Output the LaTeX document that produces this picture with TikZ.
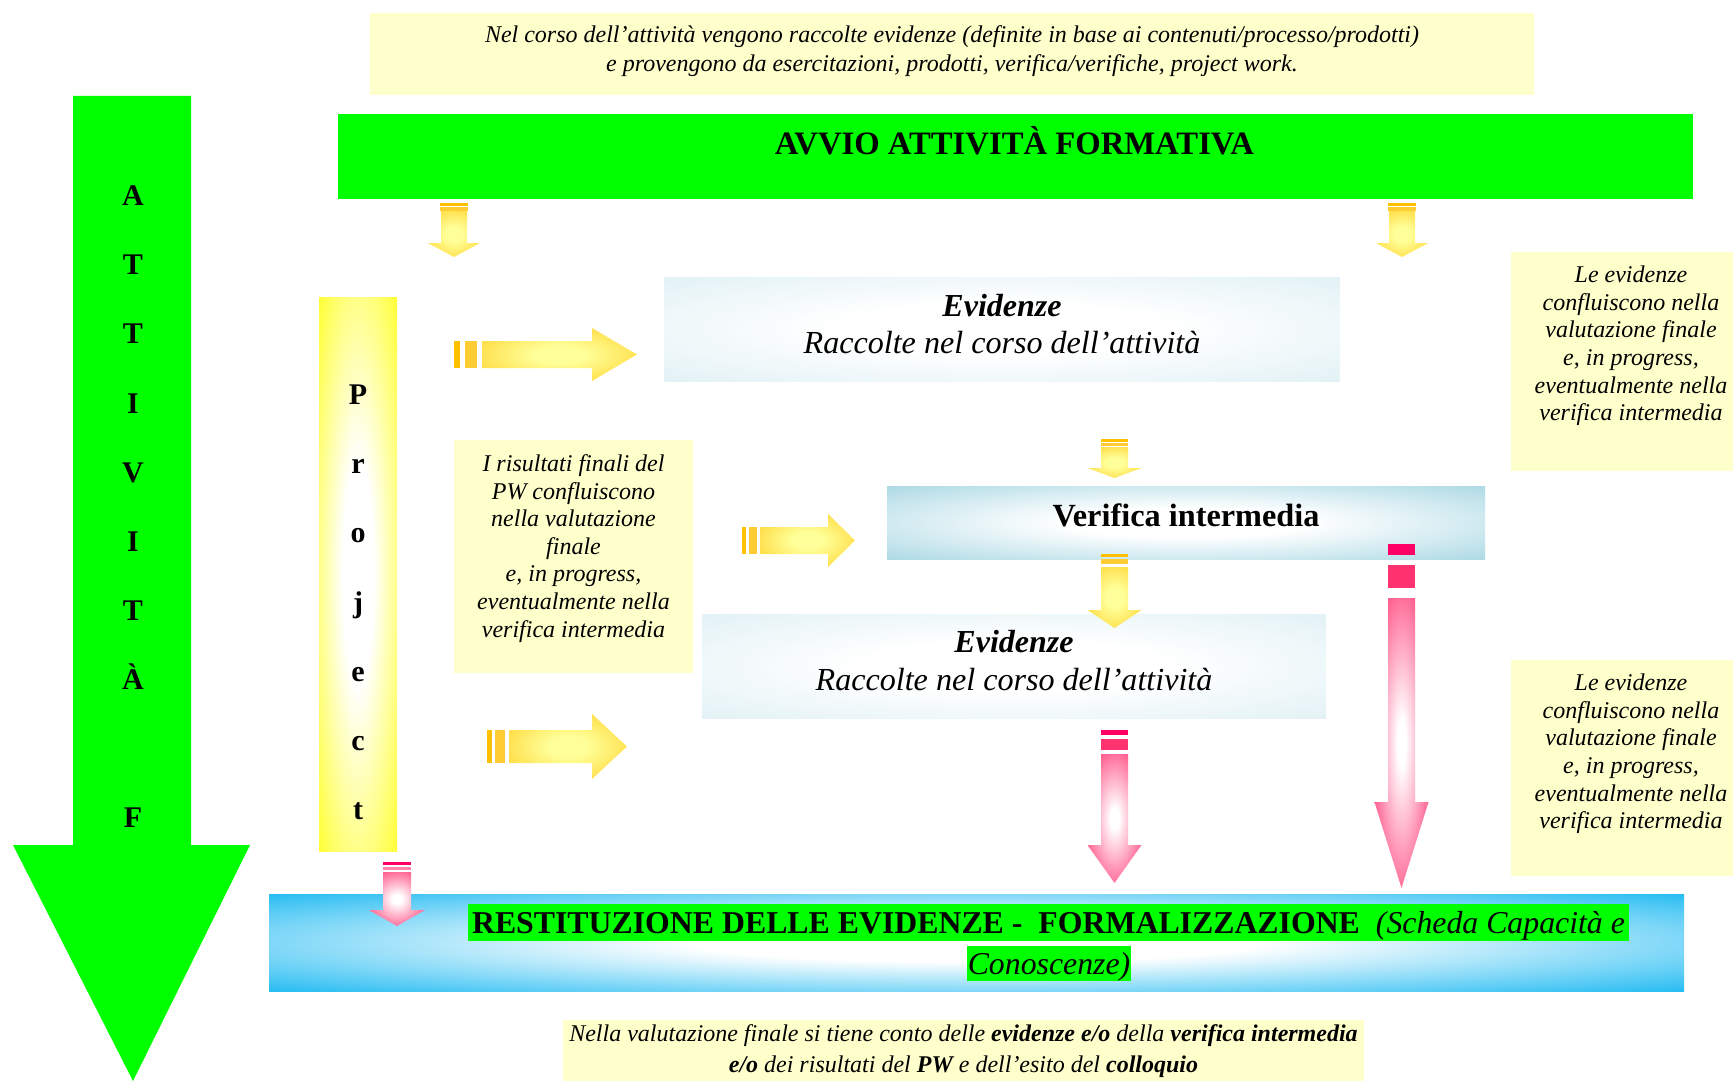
\documentclass[tikz,border=0pt]{standalone}
\usepackage{fontspec}
\setmainfont{Liberation Serif}
\definecolor{noteyellow}{HTML}{FFFFCC}
\definecolor{brightgreen}{HTML}{00FF00}
\definecolor{evblue}{HTML}{DAEEF3}
\definecolor{verblue}{HTML}{92CDDC}
\definecolor{barblue}{HTML}{00B0F0}
\definecolor{gold}{HTML}{FFC000}
\definecolor{goldlight}{HTML}{FFCC33}
\definecolor{paleyellow}{HTML}{FFFF99}
\definecolor{projyellow}{HTML}{FFFF00}
\definecolor{pinkarrow}{HTML}{FF3370}
\definecolor{hotpink}{HTML}{FF0066}
\pgfdeclareradialshading{evshade}{\pgfpointorigin}{color(0bp)=(white); color(12bp)=(white); color(42bp)=(evblue); color(72bp)=(evblue)}
\pgfdeclareradialshading{vershade}{\pgfpointorigin}{color(0bp)=(white); color(10bp)=(white); color(44bp)=(verblue); color(72bp)=(verblue)}
\pgfdeclareradialshading{barshade}{\pgfpointorigin}{color(0bp)=(white); color(10bp)=(white); color(40bp)=(barblue); color(72bp)=(barblue)}
\pgfdeclareradialshading{projshade}{\pgfpointorigin}{color(0bp)=(white); color(10bp)=(white); color(42bp)=(projyellow); color(72bp)=(projyellow)}
\pgfdeclareradialshading{yelshade}{\pgfpointorigin}{color(0bp)=(paleyellow); color(8bp)=(paleyellow); color(46bp)=(gold); color(72bp)=(gold)}
\pgfdeclareradialshading{pinkshade}{\pgfpointorigin}{color(0bp)=(white); color(4bp)=(white); color(34bp)=(pinkarrow); color(72bp)=(pinkarrow)}
\newcommand{\fsz}[2]{\fontsize{#1}{#2}\selectfont}
% down block arrow: #1 shading, #2 x, #3 shaft top, #4 head top, #5 tip, #6 shaft half width
\newcommand{\dnarrow}[6]{%
  \shade[shading=#1] ({#2-#6},#3) -- ({#2+#6},#3) -- ({#2+#6},#4) -- ({#2+2*#6},#4) -- (#2,#5) -- ({#2-2*#6},#4) -- ({#2-#6},#4) -- cycle;}
% right block arrow: #1 shading, #2 y, #3 shaft left, #4 head left, #5 tip, #6 shaft half, #7 head half
\newcommand{\rtarrow}[7]{%
  \shade[shading=#1] (#3,{#2-#6}) -- (#4,{#2-#6}) -- (#4,{#2-#7}) -- (#5,#2) -- (#4,{#2+#7}) -- (#4,{#2+#6}) -- (#3,{#2+#6}) -- cycle;}
\begin{document}
\begin{tikzpicture}[x=1pt,y=-1pt,
  box/.style={inner sep=0pt, outer sep=0pt, anchor=north west, draw=none},
  notebox/.style={box, fill=noteyellow},
  notetext/.style={align=center, inner sep=0pt, font=\itshape\fsz{24}{27.6}},
  letter/.style={anchor=base, inner sep=0pt, font=\bfseries\fsz{30}{30}},
  ttl/.style={anchor=base, inner sep=0pt, font=\bfseries\fsz{32.3}{36}},
  sub/.style={anchor=base, inner sep=0pt, font=\itshape\fsz{32.1}{36}}]
\useasboundingbox (0,0) rectangle (1733,1081);

% top note
\node[notebox, minimum width=1164pt, minimum height=82pt] (topnote) at (370,13) {};
\node[notetext, font=\itshape\fsz{24}{28.7}] (topnotetext) at (952,51)
  {Nel corso dell'attività vengono raccolte evidenze (definite in base ai contenuti/processo/prodotti)\\e provengono da esercitazioni, prodotti, verifica/verifiche, project work.};

% banner
\node[box, fill=brightgreen, minimum width=1355pt, minimum height=85pt] (banner) at (338,114) {};
\node[ttl, font=\bfseries\fsz{32.7}{33}] (bannertext) at (1014.5,154) {AVVIO ATTIVITÀ FORMATIVA};

% big green arrow
\fill[brightgreen] (73,96) -- (191,96) -- (191,845) -- (250,845) -- (133,1081) -- (13,845) -- (73,845) -- cycle;
\foreach \l/\y [count=\i] in {A/205.5, T/274.7, T/343.9, I/413, V/482, I/551, T/620, À/689, F/827}
  \node[letter] (att\i) at (133,\y) {\l};

% project bar
\node[box, shade, shading=projshade, minimum width=78pt, minimum height=554pt] (project) at (319,297) {};
\foreach \l/\y [count=\i] in {P/404.5, r/473.7, o/542.9, j/612, e/681, c/750, t/819}
  \node[letter] (proj\i) at (358,\y) {\l};

% evidenze box 1
\node[box, shade, shading=evshade, minimum width=676pt, minimum height=104pt] (ev1) at (664,277) {};
\node[ttl, font=\bfseries\itshape\fsz{32}{36}] (ev1title) at (1002,316) {Evidenze};
\node[sub] (ev1sub) at (1002,353) {Raccolte nel corso dell'attività};

% verifica intermedia
\node[box, shade, shading=vershade, minimum width=598pt, minimum height=73pt] (ver) at (887,486) {};
\node[ttl] (vertext) at (1186,526) {Verifica intermedia};

% evidenze box 2
\node[box, shade, shading=evshade, minimum width=624pt, minimum height=104pt] (ev2) at (702,614) {};
\node[ttl, font=\bfseries\itshape\fsz{32}{36}] (ev2title) at (1014,652) {Evidenze};
\node[sub] (ev2sub) at (1014,690) {Raccolte nel corso dell'attività};

% notes
\node[notebox, minimum width=239pt, minimum height=233pt] (noteL) at (454,440) {};
\node[notetext] (noteLtext) at (573.5,548.5) {I risultati finali del\\PW confluiscono\\nella valutazione\\finale\\e, in progress,\\eventualmente nella\\verifica intermedia};
\node[notebox, minimum width=222pt, minimum height=219pt] (noteR1) at (1511,252) {};
\node[notetext] (noteR1text) at (1631,346) {Le evidenze\\confluiscono nella\\valutazione finale\\e, in progress,\\eventualmente nella\\verifica intermedia};
\node[notebox, minimum width=222pt, minimum height=216pt] (noteR2) at (1511,660) {};
\node[notetext] (noteR2text) at (1631,754) {Le evidenze\\confluiscono nella\\valutazione finale\\e, in progress,\\eventualmente nella\\verifica intermedia};

% restituzione bar
\node[box, shade, shading=barshade, minimum width=1415pt, minimum height=97pt] (bar) at (269,894) {};
\node[box, fill=brightgreen, minimum width=1161pt, minimum height=37pt] (hl1) at (468,904) {};
\node[box, fill=brightgreen, minimum width=164pt, minimum height=35pt] (hl2) at (967,946) {};
\node[ttl, font=\bfseries\fsz{31.8}{36}] (bartext1) at (1048.5,933) {RESTITUZIONE DELLE EVIDENZE - \ FORMALIZZAZIONE\ \ \textnormal{\itshape(Scheda Capacità e}};
\node[sub, font=\itshape\fsz{31.8}{36}] (bartext2) at (1049,974) {Conoscenze)};

% bottom note
\node[notebox, minimum width=801pt, minimum height=61pt] (botnote) at (563,1020) {};
\node[notetext, font=\itshape\fsz{24}{31}] (botnotetext) at (963.5,1051)
  {Nella valutazione finale si tiene conto delle \textbf{evidenze e/o} della \textbf{verifica intermedia}\\\textbf{e/o} dei risultati del \textbf{PW} e dell'esito del \textbf{colloquio}};

% yellow down arrows
\fill[gold] (440,203) rectangle (468,205.5);
\fill[goldlight] (440,206.5) rectangle (468,210.5);
\dnarrow{yelshade}{454}{211}{243}{257}{13}
\fill[gold] (1388,203) rectangle (1416,205.5);
\fill[goldlight] (1388,206.5) rectangle (1416,210.5);
\dnarrow{yelshade}{1402}{211}{243}{257}{13}
\fill[gold] (1101,439) rectangle (1128,441.5);
\fill[goldlight] (1101,442.5) rectangle (1128,446);
\dnarrow{yelshade}{1114.5}{447}{468}{478}{13.5}
\fill[gold] (1101,554) rectangle (1128,557);
\fill[goldlight] (1101,559) rectangle (1128,564);
\dnarrow{yelshade}{1114.5}{567}{610}{628}{13.5}

% yellow right arrows
\fill[gold] (454,341) rectangle (460,368);
\fill[goldlight] (465,341) rectangle (477,368);
\rtarrow{yelshade}{354.5}{482}{592}{637}{13.5}{26.5}
\fill[gold] (742,527) rectangle (746,554);
\fill[goldlight] (749,527) rectangle (757,554);
\rtarrow{yelshade}{540.5}{760}{828}{855}{13.5}{26.5}
\fill[gold] (487,730) rectangle (492,763);
\fill[goldlight] (495,730) rectangle (505,763);
\rtarrow{yelshade}{746.5}{509}{592}{627}{16.5}{32.5}

% pink down arrows
\fill[hotpink] (1101,730) rectangle (1128,735);
\fill[pinkarrow] (1101,739) rectangle (1128,750);
\dnarrow{pinkshade}{1114.5}{754}{845}{883}{13.5}
\fill[hotpink] (1388,544) rectangle (1415,555);
\fill[pinkarrow] (1388,565) rectangle (1415,588);
\dnarrow{pinkshade}{1401.5}{598}{802}{888}{13.5}
\fill[hotpink] (383,862) rectangle (411,865);
\fill[pinkarrow!60] (383,866.5) rectangle (411,870);
\dnarrow{pinkshade}{397}{872}{910}{926}{14}
\end{tikzpicture}
\end{document}
